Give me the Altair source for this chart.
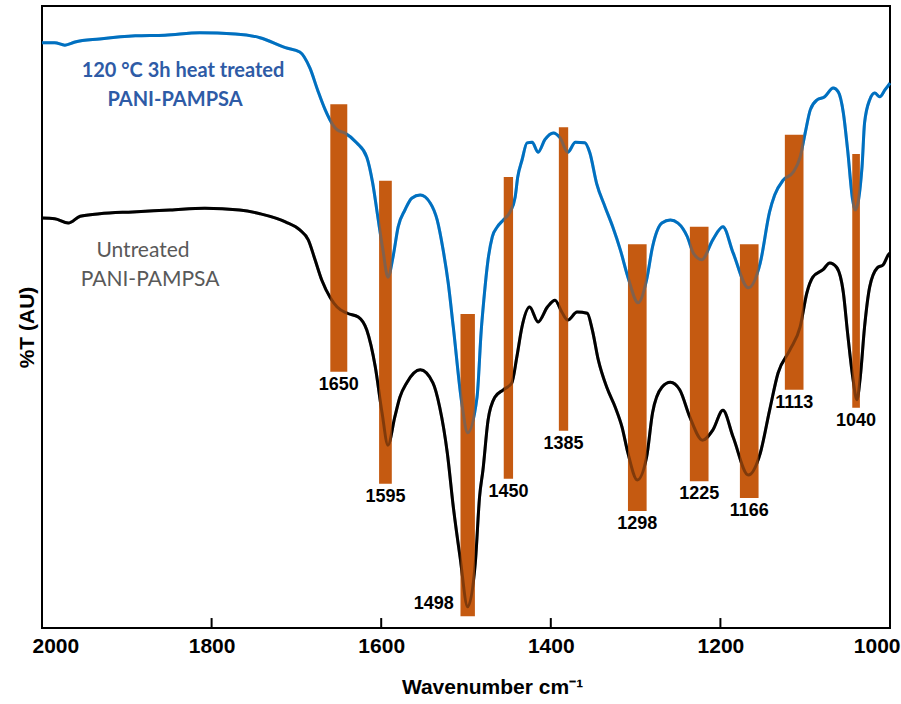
import altair as alt
import pandas as pd

# FTIR spectra: wavenumber (cm^-1) and transmittance (arbitrary units)
heat_wn = [2000, 1985, 1973, 1961, 1932, 1890, 1855, 1814, 1772, 1743, 1713, 1696,
           1684, 1675, 1666, 1657, 1652, 1643, 1629, 1617, 1610, 1604, 1598, 1592,
           1586, 1580, 1572, 1564, 1554, 1542, 1534, 1527, 1521, 1515, 1505, 1498,
           1487, 1482, 1479, 1474, 1469, 1463, 1456, 1448, 1442, 1439, 1434, 1428,
           1422, 1415, 1407, 1397, 1389, 1380, 1371, 1360, 1354, 1346, 1336, 1327,
           1318, 1309, 1297, 1287, 1280, 1269, 1259, 1250, 1239, 1232, 1222, 1209,
           1197, 1185, 1167, 1153, 1142, 1136, 1126, 1114, 1106, 1100, 1094, 1086,
           1077, 1067, 1061, 1055, 1050, 1044, 1041, 1033, 1030, 1024, 1018, 1012,
           1006, 1000]
heat_t = [94.1, 94.1, 93.7, 94.2, 94.7, 95.2, 95.3, 95.7, 95.5, 94.9, 93.3, 92.6,
          90.0, 86.5, 83.3, 80.9, 80.1, 79.6, 78.0, 75.7, 71.5, 66.1, 60.8, 56.4,
          59.7, 64.5, 67.2, 69.1, 69.6, 68.3, 65.6, 60.8, 55.5, 48.4, 36.2, 31.4,
          37.1, 47.9, 52.7, 59.2, 62.9, 64.5, 65.6, 66.9, 69.3, 72.5, 75.2, 78.0,
          78.1, 76.5, 78.5, 79.6, 78.8, 76.5, 78.1, 78.0, 76.4, 71.5, 67.7, 64.5,
          60.8, 56.4, 52.3, 56.0, 61.3, 65.1, 65.6, 65.1, 62.9, 60.3, 59.2, 62.4,
          64.5, 60.3, 54.7, 58.7, 66.9, 69.6, 72.0, 73.3, 75.7, 79.6, 83.3, 84.9,
          85.4, 86.8, 86.2, 82.8, 76.9, 68.8, 67.2, 74.1, 81.2, 84.9, 86.0, 85.4,
          86.5, 87.6]

untreated_wn = [2000, 1985, 1969, 1955, 1932, 1893, 1849, 1808, 1767, 1743, 1713, 1696,
                1686, 1678, 1670, 1660, 1652, 1640, 1627, 1617, 1607, 1599, 1592, 1584,
                1578, 1570, 1554, 1539, 1531, 1522, 1515, 1507, 1498, 1489, 1484, 1480,
                1474, 1466, 1456, 1446, 1440, 1434, 1425, 1415, 1404, 1395, 1387, 1380,
                1369, 1357, 1351, 1344, 1334, 1324, 1316, 1309, 1298, 1287, 1280, 1269,
                1259, 1248, 1236, 1221, 1209, 1197, 1185, 1167, 1153, 1142, 1132, 1118,
                1106, 1098, 1091, 1079, 1071, 1063, 1055, 1050, 1044, 1039, 1035, 1030,
                1024, 1015, 1008, 1002, 1000]
untreated_t = [65.9, 65.8, 65.1, 66.2, 66.6, 66.9, 67.2, 67.5, 67.2, 66.6, 65.3, 64.0,
               62.4, 59.2, 55.9, 53.1, 51.6, 50.6, 50.0, 47.9, 42.0, 34.6, 29.4, 33.9,
               37.1, 39.4, 41.5, 39.4, 35.5, 28.1, 19.5, 11.4, 3.4, 10.5, 21.1, 25.4,
               33.4, 37.1, 38.3, 39.4, 43.6, 48.4, 51.6, 49.2, 51.6, 52.7, 50.8, 49.5,
               50.8, 50.6, 47.9, 43.1, 38.7, 35.5, 32.3, 28.1, 23.8, 27.5, 34.6, 38.7,
               39.5, 38.3, 33.9, 30.2, 31.8, 35.0, 30.7, 24.6, 28.1, 35.0, 41.0, 44.7,
               48.4, 53.9, 56.4, 57.6, 58.7, 58.0, 53.9, 47.4, 40.4, 36.7, 40.4, 48.4,
               54.8, 57.9, 58.4, 60.0, 60.3]

# Assigned absorption bands: position, band extent (cm^-1) and vertical span
peak_wn = [1650, 1595, 1498, 1450, 1385, 1298, 1225, 1166, 1113, 1040]
peak_band = [20, 15, 17, 11, 11, 22, 22, 22, 22, 9]
peak_top = [84.2, 71.9, 50.5, 72.5, 80.5, 61.7, 64.5, 61.7, 79.3, 76.2]
peak_bottom = [41.2, 23.2, 1.9, 24.0, 31.7, 18.8, 23.6, 20.9, 38.3, 35.4]

x_ticks = [2000, 1800, 1600, 1400, 1200, 1000]

heat_label = ["120 °C 3h heat treated", "PANI-PAMPSA"]
untreated_label = ["Untreated", "PANI-PAMPSA"]

BLUE = "#0070C0"
BAR = "#C55A11"

spectra = pd.concat([
    pd.DataFrame({"wn": heat_wn, "t": heat_t, "sample": "heat"}),
    pd.DataFrame({"wn": untreated_wn, "t": untreated_t, "sample": "untreated"}),
], ignore_index=True)

bands = pd.DataFrame({
    "wn": peak_wn,
    "lo": [w - b / 2 for w, b in zip(peak_wn, peak_band)],
    "hi": [w + b / 2 for w, b in zip(peak_wn, peak_band)],
    "top": peak_top,
    "bottom": peak_bottom,
    "label": [str(w) for w in peak_wn],
})

ticks = pd.DataFrame({"wn": x_ticks[1:-1]})

x_scale = alt.Scale(domain=[1000, 2000], reverse=True, nice=False, zero=False)
y_scale = alt.Scale(domain=[0, 100], nice=False, zero=False)

x_enc = alt.X(
    "wn:Q", scale=x_scale,
    axis=alt.Axis(
        values=x_ticks, format="d", title="Wavenumber cm⁻¹", grid=False,
        domain=False, ticks=False, labelFontSize=21, labelFont="Liberation Sans",
        labelFontWeight="bold", labelColor="black", labelPadding=7,
        labelFlush=True, labelFlushOffset=10,
        titleFontSize=21, titleFont="Liberation Sans", titleFontWeight="bold",
        titleColor="black", titleX=450, titleY=65, titleBaseline="alphabetic",
        titleAlign="center",
    ),
)
y_enc = alt.Y(
    "t:Q", scale=y_scale,
    axis=alt.Axis(
        title="%T (AU)", labels=False, ticks=False, domain=False, grid=False,
        titleFontSize=21, titleFont="Liberation Sans", titleFontWeight="bold",
        titleColor="black", titleAngle=270, titleX=-9, titleY=321,
        titleBaseline="alphabetic", titleAlign="center",
    ),
)

base = alt.Chart(spectra)


def spectrum(sample, color, opacity=1.0):
    return base.transform_filter(alt.datum.sample == sample).mark_line(
        color=color, strokeWidth=3, interpolate="monotone", opacity=opacity,
    ).encode(x=x_enc, y=y_enc, order="wn:Q")


lines = spectrum("heat", BLUE) + spectrum("untreated", "black")
lines_faint = spectrum("heat", BLUE, 0.35) + spectrum("untreated", "black", 0.35)

bars = alt.Chart(bands).mark_rect(color=BAR).encode(
    x=alt.X("lo:Q", scale=x_scale), x2="hi:Q",
    y=alt.Y("top:Q", scale=y_scale), y2="bottom:Q",
)

labels = alt.Chart(bands).transform_filter(alt.datum.label != "1498").mark_text(
    fontSize=18, font="Liberation Sans", fontWeight="bold", color="black",
    baseline="middle", dy=13,
).encode(x=alt.X("wn:Q", scale=x_scale), y=alt.Y("bottom:Q", scale=y_scale), text="label:N")

label_1498 = alt.Chart(bands).transform_filter(alt.datum.label == "1498").mark_text(
    fontSize=18, font="Liberation Sans", fontWeight="bold", color="black",
    baseline="middle", dx=-34, dy=-12,
).encode(x=alt.X("wn:Q", scale=x_scale), y=alt.Y("bottom:Q", scale=y_scale), text="label:N")

# short tick marks pointing into the plot from the bottom axis
inner_ticks = alt.Chart(ticks).mark_rule(color="black", strokeWidth=2).encode(
    x=alt.X("wn:Q", scale=x_scale),
    y=alt.Y(datum=0, scale=y_scale),
    y2=alt.Y2(datum=1.6),
)


def note(text, x, y, color, weight, size):
    return alt.Chart(pd.DataFrame({"s": [text]})).mark_text(
        font="Lato", fontSize=size, fontWeight=weight, color=color,
        align="center", baseline="middle",
    ).encode(x=alt.value(x), y=alt.value(y), text="s:N")


notes = (
    note(heat_label[0], 141, 65, "#2E5BA6", "bold", 20)
    + note(heat_label[1], 133, 94, "#2E5BA6", "bold", 20)
    + note(untreated_label[0], 101, 245, "#595959", "normal", 21)
    + note(untreated_label[1], 108, 274, "#595959", "normal", 21)
)

chart = alt.layer(
    lines, bars, lines_faint, labels, label_1498, inner_ticks, notes,
).properties(
    width=848, height=622,
    autosize=alt.AutoSizeParams(type="none"),
    padding={"left": 42, "top": 6, "right": 11, "bottom": 76},
).configure_view(
    stroke="black", strokeWidth=2,
)

chart.save("out.html", embed_options={"renderer": "svg", "actions": False})
